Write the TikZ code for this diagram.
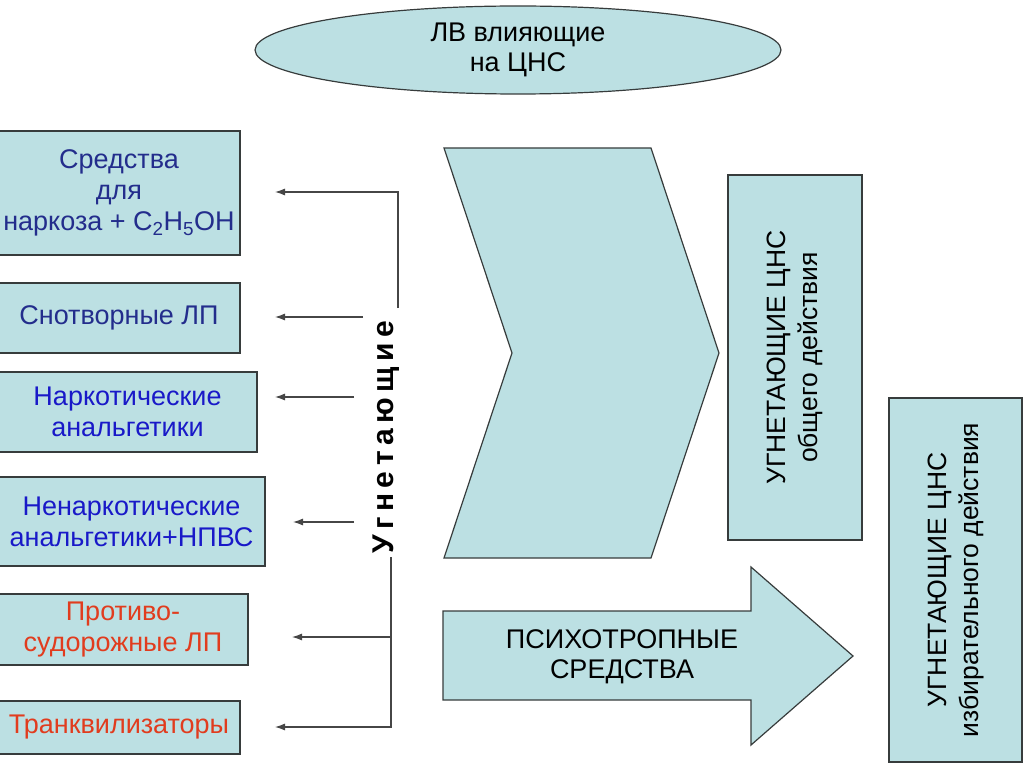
\documentclass[tikz,border=0pt]{standalone}
\usepackage{fontspec}
\setmainfont{Liberation Sans}
\definecolor{cnsfill}{RGB}{188,224,227}
\definecolor{cnsline}{RGB}{55,60,60}
\definecolor{cnsnavy}{RGB}{35,45,140}
\definecolor{cnsblue}{RGB}{25,25,200}
\definecolor{cnsred}{RGB}{225,60,30}
\definecolor{cnsgray}{RGB}{70,70,70}
\usetikzlibrary{arrows.meta,shapes.geometric}
\newcommand{\lsp}{\hspace{5.5pt}}

\begin{document}
\begin{tikzpicture}[x=1pt, y=-1pt, every node/.style={font=\fontsize{27}{31}\selectfont},
  bx/.style={draw=cnsline, fill=cnsfill, line width=1.2pt, inner sep=0pt, align=center},
  ln/.style={draw=cnsgray, line width=1.1pt},
  arr/.style={ln, -{Latex[length=10pt,width=7pt]}}]
\useasboundingbox (0,0) rectangle (1024,767);
% header
\node[bx, ellipse, minimum width=526, minimum height=88, font=\fontsize{27}{30}\selectfont] (lv) at (518,50) {ЛВ влияющие\\на ЦНС};
% left column
\node[bx, minimum width=242, minimum height=124, text=cnsnavy] (narc) at (119,193) {Средства\\для\\наркоза + C\textsubscript{2}H\textsubscript{5}OH};
\node[bx, minimum width=242, minimum height=70, text=cnsnavy] (hyp) at (119,318) {Снотворные ЛП};
\node[bx, minimum width=259, minimum height=80, text=cnsblue] (opi) at (127.5,412) {Наркотические\\анальгетики};
\node[bx, minimum width=267, minimum height=89, text=cnsblue] (nsaid) at (131.5,521.5) {Ненаркотические\\анальгетики+НПВС};
\node[bx, minimum width=250, minimum height=71, text=cnsred] (conv) at (123,629.5) {Противо-\\судорожные ЛП};
\node[bx, minimum width=242, minimum height=53, text=cnsred] (tranq) at (119,727.5) {Транквилизаторы};
% right column
\node[bx, rotate=90, minimum width=365, minimum height=134, font=\fontsize{26.5}{32}\selectfont] (gen) at (795,357.5) {УГНЕТАЮЩИЕ ЦНС\\общего действия};
\node[bx, rotate=90, minimum width=364, minimum height=133, font=\fontsize{26.5}{32}\selectfont] (sel) at (955.5,580) {УГНЕТАЮЩИЕ ЦНС\\избирательного действия};
% chevron and arrow
\draw[bx] (444,148) -- (651,148) -- (719,353) -- (651,558) -- (444,558) -- (512,353) -- cycle;
\draw[bx] (443,611) -- (751,611) -- (751,567) -- (853,656) -- (751,745) -- (751,700) -- (443,700) -- cycle;
\node[align=center, font=\fontsize{27}{30}\selectfont] (psy) at (622,657) {ПСИХОТРОПНЫЕ\\СРЕДСТВА};
% vertical label
\node[rotate=90, font=\fontsize{30}{34}\selectfont\bfseries] (ugn) at (386,437.5) {У\lsp г\lsp н\lsp е\lsp т\lsp а\lsp ю\lsp щ\lsp и\lsp е};
% connectors
\coordinate (up) at (398,308);
\coordinate (lo) at (391,557);
\coordinate (br) at (391,637);
\coordinate (s2) at (363,317);
\coordinate (s3) at (354,397);
\coordinate (s4) at (354,522);
\coordinate (e1) at (275,192);
\coordinate (e2) at (275,317);
\coordinate (e3) at (275,397);
\coordinate (e4) at (293,522);
\coordinate (e5) at (292,637);
\coordinate (e6) at (275,727);
\draw[arr] (up) |- (e1);
\draw[arr] (s2) -- (e2);
\draw[arr] (s3) -- (e3);
\draw[arr] (s4) -- (e4);
\draw[arr] (br) -- (e5);
\draw[arr] (lo) |- (e6);
\end{tikzpicture}
\end{document}
